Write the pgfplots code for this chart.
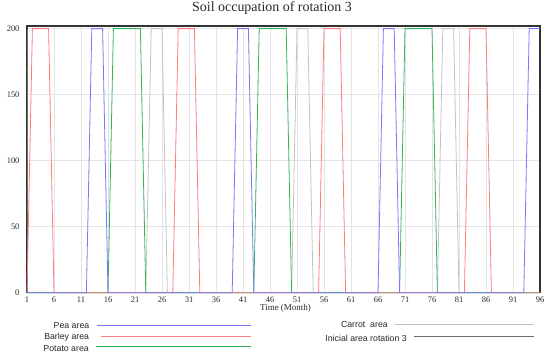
\documentclass[border=0pt]{standalone}
\usepackage{fontspec}
\setmainfont{Liberation Serif}
\newfontfamily\legfont{Liberation Sans}
\usepackage{pgfplots}
\pgfplotsset{compat=1.18}
\definecolor{peac}{RGB}{120,120,255}
\definecolor{barc}{RGB}{255,125,125}
\definecolor{potc}{RGB}{50,180,90}
\definecolor{carc}{RGB}{195,195,195}
\definecolor{inic}{RGB}{110,110,110}
\definecolor{gridc}{RGB}{228,228,228}
\definecolor{txt}{RGB}{40,40,40}
\begin{document}
\begin{tikzpicture}
\useasboundingbox (-27bp,-69.3bp) rectangle (523bp,292.7bp);
\begin{axis}[
  at={(0bp,0bp)}, anchor=south west,
  scale only axis, width=513bp, height=266.7bp,
  xmin=1, xmax=96, ymin=0, ymax=202,
  xtick={1,6,...,96}, ytick={0,50,100,150,200},
  grid=major, grid style={draw=gridc, line width=0.6bp},
  major tick length=0pt,
  axis line style={draw=black!80, line width=1.1bp},
  clip=false,
  /pgf/number format/assume math mode=true,
  ticklabel style={font=\fontsize{8.5}{10}\selectfont, text=txt},
  yticklabel style={xshift=-4bp},
  xticklabel style={yshift=-1bp},
  title={Soil occupation of rotation 3},
  title style={at={(axis description cs:0.5,1)}, anchor=base, yshift=9bp, xshift=-11.5bp, font=\fontsize{14}{16}\selectfont, text=txt},
  xlabel={Time (Month)},
  xlabel style={at={(axis description cs:0.5,0)}, anchor=center, yshift=-16bp, xshift=2bp, font=\fontsize{9}{10}\selectfont, text=txt},
]
\addplot[draw=inic, line width=0.8bp] coordinates {(1,0)(1,200)};
\addplot[draw=carc, line width=0.8bp] coordinates {(1,0)(23,0)(24,200)(26,200)(27,0)(50,0)(51,200)(53,200)(54,0)(77,0)(78,200)(80,200)(81,0)(96,0)};
\addplot[draw=potc, line width=0.8bp] coordinates {(1,0)(16,0)(17,200)(22,200)(23,0)(43,0)(44,200)(49,200)(50,0)(70,0)(71,200)(76,200)(77,0)(96,0)};
\addplot[draw=barc, line width=0.8bp] coordinates {(1,0)(2,200)(5,200)(6,0)(28,0)(29,200)(32,200)(33,0)(55,0)(56,200)(59,200)(60,0)(82,0)(83,200)(86,200)(87,0)(96,0)};
\addplot[draw=peac, line width=0.8bp] coordinates {(1,0)(12,0)(13,200)(15,200)(16,0)(39,0)(40,200)(42,200)(43,0)(66,0)(67,200)(69,200)(70,0)(93,0)(94,200)(96,200)};
\end{axis}
% legend
\begin{scope}[every node/.style={inner sep=0pt, font=\legfont\fontsize{8.8}{10}\selectfont, text=txt, anchor=base east}]
\node at (62.5bp,-35.5bp) {Pea area};
\draw[draw=peac, line width=1bp] (70bp,-32.3bp) -- (224bp,-32.3bp);
\node at (62.3bp,-46.5bp) {Barley area};
\draw[draw=barc, line width=1bp] (74bp,-43.7bp) -- (224bp,-43.7bp);
\node at (62bp,-58.5bp) {Potato area};
\draw[draw=potc, line width=1bp] (69bp,-54bp) -- (224bp,-54bp);
\node at (361bp,-34.5bp) {Carrot\ \ area};
\draw[draw=carc, line width=1bp] (368bp,-32bp) -- (507bp,-32bp);
\node at (380bp,-49.2bp) {Inicial area rotation 3};
\draw[draw=inic, line width=1bp] (387bp,-43.3bp) -- (507bp,-43.3bp);
\end{scope}
\end{tikzpicture}
\end{document}
